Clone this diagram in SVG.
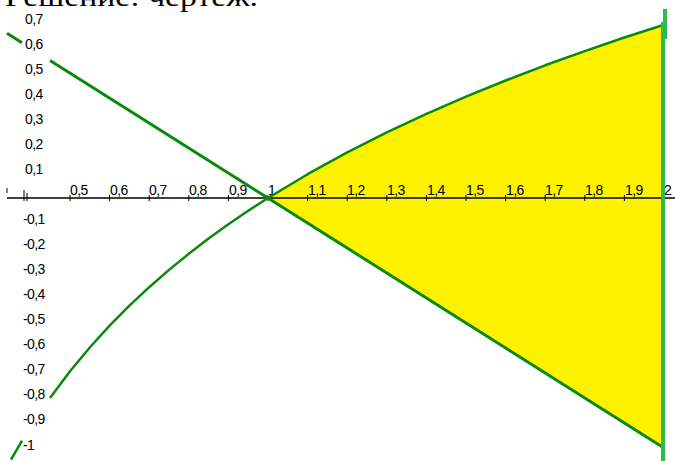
<svg xmlns="http://www.w3.org/2000/svg" width="675" height="461" viewBox="0 0 675 461">
<style>
.lbl{font-family:"Liberation Sans",Arial,sans-serif;font-size:14px;fill:#000;letter-spacing:-0.6px}
.curve{fill:none;stroke:#0a8a0a;stroke-linejoin:round;stroke-linecap:butt}
.tick{stroke:#000;stroke-width:1}
</style>
<rect width="675" height="461" fill="#fff"/>
<g id="title">
<text x="5" y="5.5" font-family="'Liberation Serif','Times New Roman',serif" font-size="27" textLength="253" lengthAdjust="spacingAndGlyphs">Решение: чертеж.</text>
</g>
<g id="area">
<polygon fill="#fff200" points="268,198 307.6,174.2 347.2,152.4 386.8,132.4 426.4,113.9 466,96.6 505.6,80.5 545.2,65.3 584.8,51.1 624.4,37.5 664,24.7 664,448"/>
</g>
<g id="x-axis">
<line x1="7" y1="198" x2="675" y2="198" stroke="#000" stroke-width="1.5"/>
<g class="tick">
<line x1="7" y1="188" x2="7" y2="193"/>
<line x1="24" y1="190" x2="24" y2="201"/>
<line x1="27" y1="193" x2="27" y2="201"/>
<line x1="70" y1="195" x2="70" y2="201"/>
<line x1="109.6" y1="195" x2="109.6" y2="201"/>
<line x1="149.2" y1="195" x2="149.2" y2="201"/>
<line x1="188.8" y1="195" x2="188.8" y2="201"/>
<line x1="228.4" y1="195" x2="228.4" y2="201"/>
<line x1="268" y1="195" x2="268" y2="201"/>
<line x1="307.6" y1="195" x2="307.6" y2="201"/>
<line x1="347.2" y1="195" x2="347.2" y2="201"/>
<line x1="386.8" y1="195" x2="386.8" y2="201"/>
<line x1="426.4" y1="195" x2="426.4" y2="201"/>
<line x1="466" y1="195" x2="466" y2="201"/>
<line x1="505.6" y1="195" x2="505.6" y2="201"/>
<line x1="545.2" y1="195" x2="545.2" y2="201"/>
<line x1="584.8" y1="195" x2="584.8" y2="201"/>
<line x1="624.4" y1="195" x2="624.4" y2="201"/>
<line x1="664" y1="195" x2="664" y2="201"/>
</g>
<g class="lbl">
<text x="70" y="195">0,5</text>
<text x="110" y="195">0,6</text>
<text x="149" y="195">0,7</text>
<text x="189" y="195">0,8</text>
<text x="229" y="195">0,9</text>
<text x="268" y="195">1</text>
<text x="308" y="195">1,1</text>
<text x="347" y="195">1,2</text>
<text x="387" y="195">1,3</text>
<text x="427" y="195">1,4</text>
<text x="466" y="195">1,5</text>
<text x="506" y="195">1,6</text>
<text x="545" y="195">1,7</text>
<text x="585" y="195">1,8</text>
<text x="625" y="195">1,9</text>
<text x="664" y="195">2</text>
</g>
</g>
<g id="y-labels" class="lbl">
<text x="25" y="23.5">0,7</text>
<text x="25" y="48.5">0,6</text>
<text x="25" y="73.5">0,5</text>
<text x="25" y="98.5">0,4</text>
<text x="25" y="123.5">0,3</text>
<text x="25" y="148.5">0,2</text>
<text x="25" y="173.5">0,1</text>
<text x="23" y="223.5">-0,1</text>
<text x="23" y="248.5">-0,2</text>
<text x="23" y="273.5">-0,3</text>
<text x="23" y="298.5">-0,4</text>
<text x="23" y="323.5">-0,5</text>
<text x="23" y="348.5">-0,6</text>
<text x="23" y="373.5">-0,7</text>
<text x="23" y="398.5">-0,8</text>
<text x="23" y="423.5">-0,9</text>
<text x="23" y="450">-1</text>
</g>
<g id="connectors">
<g id="line-1-minus-x">
<line class="curve" stroke-width="3" x1="7" y1="33.2" x2="22" y2="42.7"/>
<line class="curve" stroke-width="3" x1="50" y1="60.4" x2="664" y2="448"/>
</g>
<g id="ln-x">
<line class="curve" stroke-width="2.5" x1="11" y1="459.7" x2="22" y2="440.7"/>
<polyline class="curve" stroke-width="2.5" points="50,397.9 70,371.3 89.8,347.5 109.6,325.7 129.4,305.7 149.2,287.2 169,269.9 188.8,253.8 208.6,238.6 228.4,224.3 248.2,210.8 268,198 307.6,174.2 347.2,152.4 386.8,132.4 426.4,113.9 466,96.6 505.6,80.5 545.2,65.3 584.8,51.1 624.4,37.5 664,24.7"/>
</g>
<g id="x-equals-2" fill="#2fba4f">
<rect x="661" y="22" width="4" height="439"/>
<rect x="663" y="9" width="4" height="30"/>
</g>
</g>
</svg>
